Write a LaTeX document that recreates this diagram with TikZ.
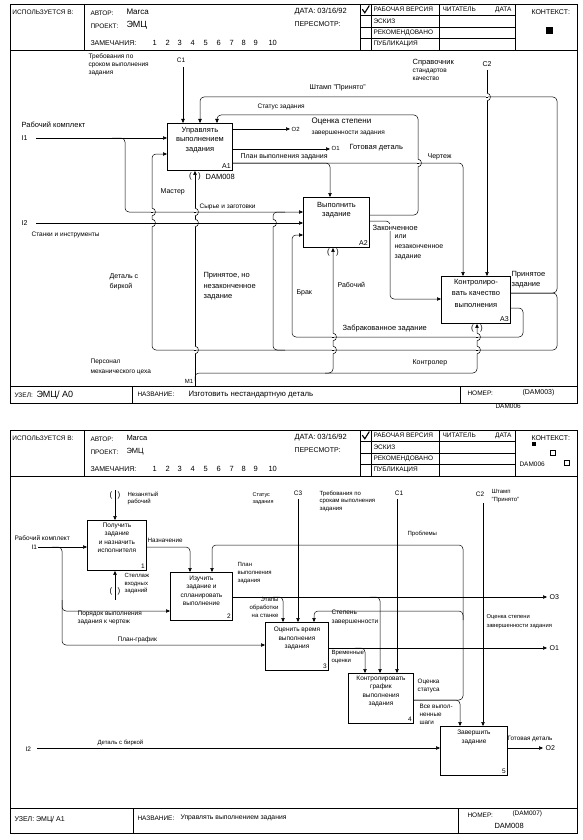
\documentclass[tikz,border=0pt]{standalone}
\usepackage{fontspec}
\setmainfont{Liberation Sans}
\usetikzlibrary{arrows.meta}
\newcommand{\myfs}[2]{\fontsize{#1}{#2}\selectfont}
\newcommand{\bmp}[2]{%
  \fill[white] ({#1-0.9},{#2-3.6}) rectangle ({#1+0.9},{#2+3.6});
  \draw[line width=0.5pt] ({#1},{#2-3.8}) .. controls ({#1+4.6},{#2-3.8}) and ({#1+4.6},{#2+3.8}) .. ({#1},{#2+3.8});
  \draw[line width=0.5pt] ({#1-1.2},{#2}) -- ({#1+1.2},{#2});}
\newcommand{\hdrtable}[1]{%
  \draw[frm] (10,0) rectangle (577,46);
  \draw[frm] (84,0) -- (84,46) (515,0) -- (515,46);
  \draw[grd] (360,0) -- (360,46) (371,0) -- (371,46) (439,0) -- (439,46)
            (360,11) -- (515,11) (360,23) -- (515,23) (360,34) -- (515,34);
  \draw[line width=1.1pt] (362.3,5.2) -- (364.8,8.8) -- (369.3,1.6);
  \node[hd] (#1use) at (12,8) {ИСПОЛЬЗУЕТСЯ В:};
  \node[hd] (#1aut) at (90,9) {АВТОР:};
  \node[hd] (#1prj) at (90,22) {ПРОЕКТ:};
  \node[hd,font=\myfs{7}{8}] (#1rem) at (90,39) {ЗАМЕЧАНИЯ:};
  \foreach \n/\xx in {1/152,2/165,3/177,4/190,5/203,6/216,7/229,8/241,9/253,10/268}
    {\node[hd,font=\myfs{7.5}{8}] (#1num\n) at (\xx,39) {\n};}
  \node[hd,font=\myfs{7.5}{8}] (#1dat) at (294,8) {ДАТА: 03/16/92};
  \node[hd,font=\myfs{7}{8}] (#1rev) at (294,20) {ПЕРЕСМОТР:};
  \node[hd] (#1s1) at (373,5.5) {РАБОЧАЯ ВЕРСИЯ};
  \node[hd] (#1s2) at (373,17) {ЭСКИЗ};
  \node[hd] (#1s3) at (373,28.5) {РЕКОМЕНДОВАНО};
  \node[hd] (#1s4) at (373,40) {ПУБЛИКАЦИЯ};
  \node[hd] (#1rd) at (442,5.5) {ЧИТАТЕЛЬ};
  \node[hd,anchor=east] (#1rdd) at (512,5.5) {ДАТА};
  \node[hd,font=\myfs{7}{8}] (#1ctx) at (531,8) {КОНТЕКСТ:};
}
\begin{document}
\begin{tikzpicture}[x=1pt,y=-1pt,
  ln/.style={line width=0.5pt, rounded corners=4pt},
  ar/.style={ln, -{Triangle[length=4pt,width=3.4pt]}},
  box/.style={draw, line width=0.9pt, anchor=north west, inner sep=0pt},
  frm/.style={line width=0.8pt},
  grd/.style={line width=0.5pt},
  t/.style={inner sep=0.4pt, align=left, font=\myfs{6.5}{8}},
  tw/.style={t, anchor=west},
  tnw/.style={t, anchor=north west},
  wb/.style={fill=white},
  tb/.style={font=\myfs{7.5}{9.5}, align=center, inner sep=0pt, anchor=north},
  tb2/.style={font=\myfs{6.5}{8.3}, align=center, inner sep=0pt, anchor=north},
  nb/.style={font=\myfs{7}{8}, inner sep=0pt, anchor=south east},
  hd/.style={font=\myfs{6.5}{7}, inner sep=0.3pt, anchor=west},
  tun/.style={font=\myfs{8}{8}, inner sep=0pt}
]
\useasboundingbox[fill=white] (0,0) rectangle (583,840);

%================= PAGE 1 =================
\begin{scope}[yshift=-4pt]
  \hdrtable{pa}
  \fill (545.5,23) rectangle (552.5,30);
\end{scope}
\node[hd] (paMarca) at (126,12) {\myfs{8}{8}Marca};
\node[hd] (paEMC) at (126,25) {\myfs{9}{9}ЭМЦ};
\draw[frm] (10,50) -- (10,403) -- (577,403) -- (577,50);
% footer
\draw[frm] (10,386) -- (577,386) (132,386) -- (132,403) (460,386) -- (460,403);
\node[hd] (paf1) at (14,395) {УЗЕЛ:};
\node[hd] (paf2) at (36,395) {\myfs{9}{9}ЭМЦ/ А0};
\node[hd] (paf3) at (137,394) {НАЗВАНИЕ:};
\node[hd] (paf4) at (188,395) {\myfs{7.8}{8}Изготовить нестандартную деталь};
\node[hd] (paf5) at (467,393) {НОМЕР:};
\node[hd] (paf6) at (522,393) {\myfs{7}{7}(DAM003)};
\node[hd] (paf7) at (495,406) {\myfs{6.5}{7}DAM006};

% boxes
\node[box,minimum width=65pt,minimum height=47pt] (A1) at (167,123) {};
\node[box,minimum width=66pt,minimum height=50pt] (A2) at (303,197) {};
\node[box,minimum width=69pt,minimum height=47pt] (A3) at (441,276) {};
\node[tb] (A1t) at ([yshift=-4pt]A1.north) {Управлять\\выполнением\\задания};
\node[nb] (A1n) at ([xshift=-2pt,yshift=2pt]A1.south east) {A1};
\node[tb] (A2t) at ([yshift=-5pt]A2.north) {Выполнить\\задание};
\node[nb] (A2n) at ([xshift=-2pt,yshift=2pt]A2.south east) {A2};
\node[tb,font=\myfs{7.5}{11.5}] (A3t) at ([yshift=-3pt]A3.north) {Контролиро-\\вать качество\\выполнения};
\node[nb] (A3n) at ([xshift=-2pt,yshift=2pt]A3.south east) {A3};

% free ends
\coordinate (c1s) at (183,67);
\coordinate (c2s) at (487,70);
\coordinate (i1s) at (36,138);
\coordinate (i2s) at (36,223);
\coordinate (o2e) at (290,129);
\coordinate (o1e) at (330,149);
\coordinate (m1s) at (195,386);

% controls
\draw[ar] (c1s) -- ([xshift=16pt]A1.north west);
\draw[ar] ([yshift=-17pt]A3.north east) -- (557,293) -- (557,97) -- (200,97) -- ([xshift=33pt]A1.north west);
\draw[ar] ([yshift=-18pt]A2.north east) -- (418,215) -- (418,115) -- (217,115) -- ([xshift=50pt]A1.north west);
\draw[ar] ([yshift=-40pt]A1.north east) -- (463,163) -- ([xshift=22pt]A3.north west);
\draw[ar] ([yshift=-40pt]A1.north east) -- (330,163) -- ([xshift=27pt]A2.north west);
\draw[ar] (c2s) -- ([xshift=46pt]A3.north west);
% inputs
\draw[ar] (i1s) -- ([yshift=-15pt]A1.north west);
\draw[ar] (112,138) -- (125,138) -- (125,212) -- ([yshift=-15pt]A2.north west);
\draw[ar] (i2s) -- ([yshift=-26pt]A2.north west);
\draw[ar] ([yshift=-17pt]A3.north east) -- (557,293) -- (557,350) -- (152,350) -- (152,154) -- ([yshift=-31pt]A1.north west);
\draw[ln] (285,350) -- (273,350) -- (273,212) -- (285,212);
\draw[ar] ([yshift=-32pt]A3.north east) -- (523,308) -- (523,337) -- (292,337) -- (292,235) -- ([yshift=-38pt]A2.north west);
\draw[ar] ([yshift=-24pt]A2.north east) -- (390,221) -- (390,299) -- ([yshift=-23pt]A3.north west);
% outputs
\draw[ar] ([yshift=-6pt]A1.north east) -- (o2e);
\draw[ar] ([yshift=-26pt]A1.north east) -- (o1e);
% mechanisms
\draw[ar] (m1s) -- ([xshift=28pt]A1.south west);
\draw[ar] (195,381) -- (195,373) -- (477,373) -- ([xshift=36pt]A3.south west);
\draw[ar] (325,373) -- (333,373) -- ([xshift=30pt]A2.south west);

% bumps
\bmp{152}{212}\bmp{152}{223}
\bmp{195}{212}\bmp{195}{223}\bmp{195}{350}
\bmp{273}{223}
\bmp{418}{163}
\bmp{487}{97}
\bmp{333}{337}\bmp{333}{350}
\bmp{477}{337}\bmp{477}{350}

% tunnels
\node[tun] (tA1a) at (190.5,176) {(};
\node[tun] (tA1b) at (199.5,176) {)};
\node[tun] (tA2a) at (328.5,252) {(};
\node[tun] (tA2b) at (337.5,252) {)};
\node[tun] (tA3a) at (472.5,328) {(};
\node[tun] (tA3b) at (481.5,328) {)};

% labels page 1
\node[tnw] (L1) at (88,53) {Требования по\\сроком выполнения\\задания};
\node[t] (L2) at (181,60) {C1};
\node[tw,font=\myfs{7.5}{8}] (L3) at (21,125) {Рабочий комплект};
\node[tw,font=\myfs{7}{8}] (L4) at (21,138) {I1};
\node[tw,font=\myfs{7}{8}] (L5) at (21,223) {I2};
\node[tw] (L6) at (31,235) {Станки и инструменты};
\node[tw] (L7) at (257,107) {Статус задания};
\node[tw,font=\myfs{6}{7}] (L8) at (291,129) {O2};
\node[tw,font=\myfs{8}{9}] (L9) at (311,122) {Оценка степени};
\node[tw] (L10) at (311,133) {завершенности задания};
\node[tw,font=\myfs{6}{7}] (L11) at (331,148.5) {O1};
\node[tw,font=\myfs{7.5}{8}] (L12) at (349,148) {Готовая деталь};
\node[tw,font=\myfs{7}{8}] (L13) at (240,156.5) {План выполнения задания};
\node[tw,font=\myfs{7}{8}] (L14) at (427,156.5) {Чертеж};
\node[tw,font=\myfs{7}{8}] (L15) at (309,88) {Штамп "Принято"};
\node[tw,font=\myfs{7.5}{8}] (L16) at (412,63) {Справочник};
\node[tnw] (L17) at (412,68) {стандартов\\качество};
\node[t,font=\myfs{7}{8}] (L18) at (487,64) {C2};
\node[tw,font=\myfs{7}{8}] (L19) at (160,192) {Мастер};
\node[tw,font=\myfs{7.5}{8}] (L20) at (205,177) {DAM008};
\node[tw] (L21) at (199,207) {Сырье и заготовки};
\node[tnw,font=\myfs{7}{10}] (L22) at (109,273) {Деталь с\\биркой};
\node[tnw,font=\myfs{7.5}{10.5}] (L23) at (203,272) {Принятое, но\\незаконченное\\задание};
\node[tw,font=\myfs{7.5}{8},wb] (L24) at (372,227.5) {Законченное};
\node[tnw,font=\myfs{7}{10}] (L25) at (394,234) {или\\незаконченное\\задание};
\node[tw,font=\myfs{7}{8}] (L26) at (296,293) {Брак};
\node[tw,font=\myfs{7}{8}] (L27) at (337,285) {Рабочий};
\node[tnw,font=\myfs{7.5}{10}] (L28) at (511,271) {Принятое\\задание};
\node[tw,font=\myfs{7.5}{8}] (L29) at (342,329) {Забракованное задание};
\node[tw,font=\myfs{7}{8}] (L30) at (412,363) {Контролер};
\node[tnw,font=\myfs{6.5}{10}] (L31) at (90,358) {Персонал\\механического цеха};
\node[t,font=\myfs{6}{7}] (L32) at (189,381) {M1};

%================= PAGE 2 =================
\begin{scope}[yshift=-430pt]
  \hdrtable{pb}
  \fill (532,12) rectangle (536,16);
  \draw[line width=0.5pt] (550,20) rectangle (555,25);
  \draw[line width=0.5pt] (564,30) rectangle (569,35);
  \node[hd] (pbdam) at (519,34) {DAM006};
\end{scope}
\node[hd] (pbMarca) at (126,438) {\myfs{7.5}{8}Marca};
\node[hd] (pbEMC) at (126,452) {\myfs{7.5}{8}ЭМЦ};
\draw[frm] (10,476) -- (10,833) -- (577,833) -- (577,476);
% footer
\draw[frm] (10,808) -- (577,808) (133,808) -- (133,833) (458,808) -- (458,833);
\node[hd] (pbf1) at (14,820) {\myfs{7}{8}УЗЕЛ: ЭМЦ/ А1};
\node[hd] (pbf3) at (137,818) {НАЗВАНИЕ:};
\node[hd] (pbf4) at (180,818) {\myfs{6.8}{8}Управлять выполнением задания};
\node[hd] (pbf5) at (467,815) {НОМЕР:};
\node[hd] (pbf6) at (512,814) {\myfs{6.5}{7}(DAM007)};
\node[hd] (pbf7) at (494,826) {\myfs{7.5}{8}DAM008};

% boxes
\node[box,minimum width=59pt,minimum height=50pt] (B1) at (87,520) {};
\node[box,minimum width=62pt,minimum height=48pt] (B2) at (170,572) {};
\node[box,minimum width=63pt,minimum height=48pt] (B3) at (265,622) {};
\node[box,minimum width=65pt,minimum height=50pt] (B4) at (348,673) {};
\node[box,minimum width=67pt,minimum height=49pt] (B5) at (440,726) {};
\node[tb2] (B1t) at ([yshift=-3pt]B1.north) {Получить\\задание\\и назначить\\исполнителя};
\node[nb,font=\myfs{6.5}{7}] (B1n) at ([xshift=-2pt,yshift=2pt]B1.south east) {1};
\node[tb2] (B2t) at ([yshift=-4pt]B2.north) {Изучить\\задание и\\спланировать\\выполнение};
\node[nb,font=\myfs{6.5}{7}] (B2n) at ([xshift=-2pt,yshift=2pt]B2.south east) {2};
\node[tb2] (B3t) at ([yshift=-5pt]B3.north) {Оценить время\\выполнения\\задания};
\node[nb,font=\myfs{6.5}{7}] (B3n) at ([xshift=-2pt,yshift=2pt]B3.south east) {3};
\node[tb2] (B4t) at ([yshift=-3pt]B4.north) {Контролировать\\график\\выполнения\\задания};
\node[nb,font=\myfs{6.5}{7}] (B4n) at ([xshift=-2pt,yshift=2pt]B4.south east) {4};
\node[tb2] (B5t) at ([yshift=-4pt]B5.north) {Завершить\\задание};
\node[nb,font=\myfs{6.5}{7}] (B5n) at ([xshift=-2pt,yshift=2pt]B5.south east) {5};

% free ends
\coordinate (q1) at (115,490);
\coordinate (q2) at (115,600);
\coordinate (qi1) at (38,547);
\coordinate (qi2) at (37,748);
\coordinate (qc3) at (298,499);
\coordinate (qc1) at (397,499);
\coordinate (qc2) at (483,503);
\coordinate (qo3) at (547,597);
\coordinate (qo1) at (547,648);
\coordinate (qo2) at (543,748);

\draw[ar] (q1) -- ([xshift=28pt]B1.north west);
\draw[ar] (q2) -- ([xshift=28pt]B1.south west);
\draw[ar] (qi1) -- ([yshift=-27pt]B1.north west);
\draw[ar] (52,547) -- (62,547) -- (62,611) -- ([yshift=-39pt]B2.north west);
\draw[ar] (62,600) -- (62,645) -- ([yshift=-23pt]B3.north west);
\draw[ar] ([yshift=-27pt]B1.north east) -- (190,547) -- ([xshift=20pt]B2.north west);
\draw[ar] ([yshift=-27pt]B4.north east) -- (463,700) -- (463,545) -- (212,545) -- ([xshift=42pt]B2.north west);
\draw[ar] ([yshift=-27pt]B4.north east) -- (460,700) -- ([xshift=20pt]B5.north west);
\draw[ar] (463,620) -- (463,611) -- (314,611) -- ([xshift=49pt]B3.north west);
\draw[ar] ([yshift=-25pt]B2.north east) -- (qo3);
\draw[ar] (273,597) -- (283,597) -- ([xshift=18pt]B3.north west);
\draw[ar] (370,597) -- (380,597) -- ([xshift=32pt]B4.north west);
\draw[ar] (qc3) -- ([xshift=33pt]B3.north west);
\draw[ar] (qc1) -- ([xshift=49pt]B4.north west);
\draw[ar] (qc2) -- ([xshift=43pt]B5.north west);
\draw[ar] ([yshift=-26pt]B3.north east) -- (qo1);
\draw[ar] (355,648) -- (365,648) -- ([xshift=17pt]B4.north west);
\draw[ar] (qi2) -- ([yshift=-22pt]B5.north west);
\draw[ar] ([yshift=-22pt]B5.north east) -- (qo2);

% tunnels
\node[tun] (tB1a) at (111,495) {(};
\node[tun] (tB1b) at (119,495) {)};
\node[tun] (tB1c) at (111,591) {(};
\node[tun] (tB1d) at (119,591) {)};

% labels page 2
\node[tnw,font=\myfs{6}{7.5}] (M1) at (127,491) {Незанятый\\рабочий};
\node[tnw,font=\myfs{6}{7.5}] (M2) at (124,573) {Стеллаж\\входных\\заданий};
\node[tw,font=\myfs{6.5}{7}] (M3) at (14,538) {Рабочий комплект};
\node[tw,font=\myfs{6.5}{7}] (M4) at (31,547) {I1};
\node[tw,font=\myfs{6.3}{7}] (M5) at (147,540) {Назначение};
\node[tnw,font=\myfs{6.5}{8.5}] (M6) at (77,610) {Порядок выполнения\\задания к чертеж};
\node[tw,font=\myfs{6.5}{7}] (M7) at (117,640) {План-график};
\node[tnw,font=\myfs{5.5}{7.5}] (M8) at (252,492) {Статус\\задания};
\node[t,font=\myfs{6.5}{7}] (M9) at (298,493) {C3};
\node[tnw,font=\myfs{6}{7.5}] (M10) at (319,490) {Требования по\\срокам выполнения\\задания};
\node[t,font=\myfs{6.5}{7}] (M11) at (399,493) {C1};
\node[t,font=\myfs{6.5}{7}] (M12) at (480,494) {C2};
\node[tnw,font=\myfs{6}{7.5}] (M13) at (491,489) {Штамп\\"Принято"};
\node[tw,font=\myfs{6}{7}] (M14) at (407,534) {Проблемы};
\node[tnw,font=\myfs{6}{7.8}] (M15) at (237,562) {План\\выполнения\\задания};
\node[t,anchor=north east,align=right,font=\myfs{6}{8}] (M16) at (279,597) {Этапы\\обработки\\на станке};
\node[tw,font=\myfs{7}{8}] (M17) at (549,597) {O3};
\node[tnw,font=\myfs{6.5}{9}] (M18) at (331,609) {Степень\\завершенности};
\node[tnw,font=\myfs{5.8}{8.5}] (M19) at (486,614) {Оценка степени\\завершенности задания};
\node[tw,font=\myfs{7}{8}] (M20) at (549,648) {O1};
\node[tnw,font=\myfs{6}{8},wb] (M21) at (331,650) {Временные\\оценки};
\node[tnw,font=\myfs{6.3}{8}] (M22) at (417,678) {Оценка\\статуса};
\node[tnw,font=\myfs{6.3}{7.8}] (M23) at (419,704) {Все выпол-\\ненные\\шаги};
\node[tw,font=\myfs{6.3}{7}] (M24) at (507,739) {Готовая деталь};
\node[tw,font=\myfs{7}{8}] (M25) at (545,748) {O2};
\node[tw,font=\myfs{6.5}{7}] (M26) at (25,749) {I2};
\node[tw,font=\myfs{6}{7}] (M27) at (97,743) {Деталь с биркой};
\end{tikzpicture}
\end{document}
